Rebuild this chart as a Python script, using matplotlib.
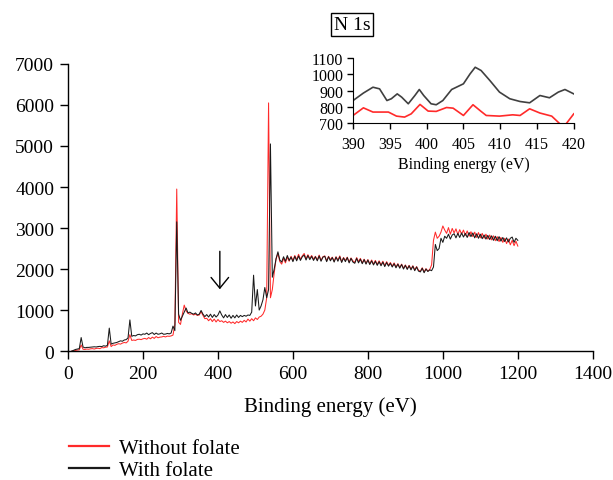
import numpy as np
import matplotlib
matplotlib.use("Agg")
import matplotlib.pyplot as plt

plt.rcParams['font.family'] = ['Liberation Serif', 'DejaVu Serif']

# ---------------- data: survey spectrum (binding energy 10..1200 eV, step 5) -------------
energy = np.arange(10, 1201, 5)

without_folate = [
    0, 5, 15, 25, 30, 150, 45, 40, 50, 45,                      # 10-55
    55, 60, 50, 65, 70, 60, 85, 80, 95, 100,                    # 60-105
    250, 110, 150, 140, 165, 180, 170, 195, 210, 200,           # 110-155
    240, 400, 260, 270, 260, 285, 290, 280, 300, 310,           # 160-205
    290, 330, 300, 340, 310, 355, 325, 340, 345, 360,           # 210-255
    345, 365, 360, 370, 390, 650, 3950, 700, 650, 900,          # 260-305
    1120, 980, 920, 900, 910, 880, 900, 870, 880, 960,          # 310-355
    870, 790, 800, 740, 790, 720, 780, 710, 770, 720,           # 360-405
    740, 700, 730, 690, 720, 680, 710, 670, 720, 690,           # 410-455
    730, 700, 750, 710, 780, 730, 790, 740, 810, 770,           # 460-505
    830, 850, 900, 1000, 1300, 6050, 1300, 1500, 1900, 2250,    # 510-555
    2380, 2180, 2120, 2260, 2150, 2290, 2190, 2310, 2210, 2330, # 560-605
    2230, 2360, 2240, 2320, 2380, 2250, 2350, 2260, 2330, 2240, # 610-655
    2310, 2220, 2340, 2210, 2300, 2320, 2200, 2310, 2230, 2290, # 660-705
    2190, 2300, 2220, 2320, 2180, 2280, 2210, 2290, 2170, 2270, # 710-755
    2200, 2160, 2280, 2180, 2260, 2150, 2240, 2140, 2230, 2130, # 760-805
    2220, 2120, 2210, 2110, 2200, 2100, 2190, 2080, 2180, 2090, # 810-855
    2160, 2070, 2150, 2050, 2130, 2040, 2120, 2020, 2100, 2010, # 860-905
    2090, 2000, 2080, 1980, 2060, 1970, 1950, 2030, 1930, 2010, # 910-955
    1950, 1990, 2100, 2700, 2900, 2750, 2800, 2900, 3050, 2950, # 960-1005
    2870, 3010, 2850, 2990, 2880, 2980, 2840, 2960, 2850, 2950, # 1010-1055
    2820, 2930, 2800, 2910, 2790, 2900, 2770, 2890, 2760, 2870, # 1060-1105
    2750, 2850, 2730, 2830, 2710, 2810, 2690, 2790, 2670, 2770, # 1110-1155
    2650, 2750, 2620, 2730, 2590, 2700, 2570, 2680, 2560,       # 1160-1200
]

with_folate = [
    0, 20, 40, 50, 60, 330, 100, 80, 90, 90,                    # 10-55
    95, 100, 105, 100, 110, 115, 110, 130, 120, 140,            # 60-105
    560, 170, 190, 200, 210, 230, 250, 240, 270, 280,           # 110-155
    320, 760, 360, 380, 370, 400, 410, 390, 420, 410,           # 160-205
    440, 400, 430, 450, 405, 440, 410, 420, 440, 410,           # 210-255
    415, 430, 420, 440, 610, 500, 3150, 900, 750, 850,          # 260-305
    950, 1050, 930, 950, 920, 900, 930, 880, 900, 990,          # 310-355
    900, 840, 890, 830, 900, 820, 890, 830, 880, 980,           # 360-405
    880, 810, 890, 820, 880, 800, 870, 810, 880, 820,           # 410-455
    870, 840, 870, 850, 880, 870, 950, 1850, 1100, 1500,        # 460-505
    1000, 1100, 1250, 1550, 1300, 1500, 5050, 1800, 2000, 2250, # 510-555
    2420, 2220, 2170, 2300, 2190, 2330, 2210, 2290, 2180, 2310, # 560-605
    2200, 2320, 2210, 2300, 2340, 2220, 2330, 2230, 2310, 2210, # 610-655
    2300, 2200, 2320, 2190, 2290, 2310, 2180, 2300, 2200, 2280, # 660-705
    2170, 2290, 2190, 2300, 2160, 2270, 2180, 2280, 2150, 2260, # 710-755
    2170, 2140, 2260, 2150, 2240, 2130, 2230, 2120, 2220, 2110, # 760-805
    2200, 2100, 2190, 2090, 2180, 2080, 2170, 2060, 2160, 2070, # 810-855
    2140, 2050, 2130, 2030, 2120, 2020, 2110, 2000, 2090, 1990, # 860-905
    2080, 1980, 2070, 1960, 2050, 1950, 1930, 2020, 1910, 2000, # 910-955
    1940, 1980, 1960, 2050, 2600, 2450, 2500, 2750, 2650, 2800, # 960-1005
    2750, 2850, 2730, 2830, 2860, 2760, 2870, 2770, 2880, 2780, # 1010-1055
    2870, 2770, 2890, 2790, 2880, 2760, 2860, 2750, 2850, 2740, # 1060-1105
    2830, 2730, 2820, 2720, 2810, 2700, 2800, 2690, 2790, 2680, # 1110-1155
    2770, 2670, 2760, 2660, 2750, 2780, 2650, 2750, 2700,       # 1160-1200
]

# ---------------- data: N 1s inset ----------------
n1s_e_with = [390, 391.4, 392.7, 393.6, 394.6, 395.2, 396, 396.6, 397.5, 398.4,
              399, 399.6, 400.6, 401.3, 402.2, 403.4, 405, 405.9, 406.6, 407.4,
              408.6, 409.9, 411.3, 412.7, 414, 415.4, 416.7, 417.9, 418.8, 420]
n1s_with = [839, 885, 921, 911, 839, 850, 880, 860, 819, 870,
            907, 870, 819, 813, 839, 907, 942, 1003, 1044, 1024,
            962, 891, 850, 833, 825, 870, 856, 891, 907, 880]

n1s_e_without = [390, 391.4, 392.7, 394.8, 395.9, 397, 397.9, 399.1, 400.2, 401.3,
                 402.7, 403.6, 405, 406.3, 407.4, 408.1, 409.9, 411.7, 412.7, 414,
                 415.4, 417, 418.1, 418.8, 420]
n1s_without = [747, 794, 768, 768, 743, 737, 757, 815, 774, 772,
               796, 792, 747, 813, 772, 747, 743, 751, 747, 788,
               762, 743, 696, 686, 757]

main_xticks = [0, 200, 400, 600, 800, 1000, 1200, 1400]
main_yticks = [0, 1000, 2000, 3000, 4000, 5000, 6000, 7000]
inset_xticks = [390, 395, 400, 405, 410, 415, 420]
inset_yticks = [700, 800, 900, 1000, 1100]

RED = '#ff2a2a'
BLACK = '#1a1a1a'
GREY = '#404040'

fig = plt.figure(figsize=(6.13, 4.81), dpi=100)

# ---------------- main axes ----------------
ax = fig.add_axes([0.111, 0.268, 0.856, 0.597])
ax.plot(energy, without_folate, color=RED, lw=0.75, label='Without folate')
ax.plot(energy, with_folate, color=BLACK, lw=0.75, label='With folate')
ax.set_xlim(0, 1400)
ax.set_ylim(0, 7000)
ax.set_xticks(main_xticks)
ax.set_yticks(main_yticks)
for s in ['top', 'right']:
    ax.spines[s].set_visible(False)
for s in ['left', 'bottom']:
    ax.spines[s].set_linewidth(1.0)
ax.tick_params(axis='both', direction='out', length=6, width=1.0, labelsize=14,
               colors='black', pad=4)
ax.set_xlabel('Binding energy (eV)', fontsize=15, labelpad=10)

ax.annotate('', xy=(405, 1440), xytext=(405, 2500),
            arrowprops=dict(arrowstyle='->,head_length=0.55,head_width=0.45',
                            color='black', lw=1.0, mutation_scale=14))

leg = fig.legend(loc='upper left', bbox_to_anchor=(0.106, 0.095), frameon=False,
                 fontsize=15, handlelength=1.9, handletextpad=0.5, labelspacing=0.12,
                 borderaxespad=0, borderpad=0.2)
for ln in leg.get_lines():
    ln.set_linewidth(1.6)

# ---------------- inset ----------------
ai = fig.add_axes([0.576, 0.742, 0.36, 0.135])
ai.plot(n1s_e_with, n1s_with, color=GREY, lw=1.2)
ai.plot(n1s_e_without, n1s_without, color=RED, lw=1.2)
ai.set_xlim(390, 420)
ai.set_ylim(700, 1100)
ai.set_xticks(inset_xticks)
ai.set_yticks(inset_yticks)
for s in ['top', 'right']:
    ai.spines[s].set_visible(False)
ai.tick_params(axis='both', direction='out', length=4, width=1.0, labelsize=11.5, pad=3)
ai.tick_params(axis='x', pad=5)
ai.set_xlabel('Binding energy (eV)', fontsize=11.5, labelpad=3)
fig.text(0.574, 0.947, 'N 1s', fontsize=14, ha='center', va='center',
         bbox=dict(boxstyle='square,pad=0.15', fc='white', ec='black', lw=1.0))

fig.savefig('out.png', dpi=100)
